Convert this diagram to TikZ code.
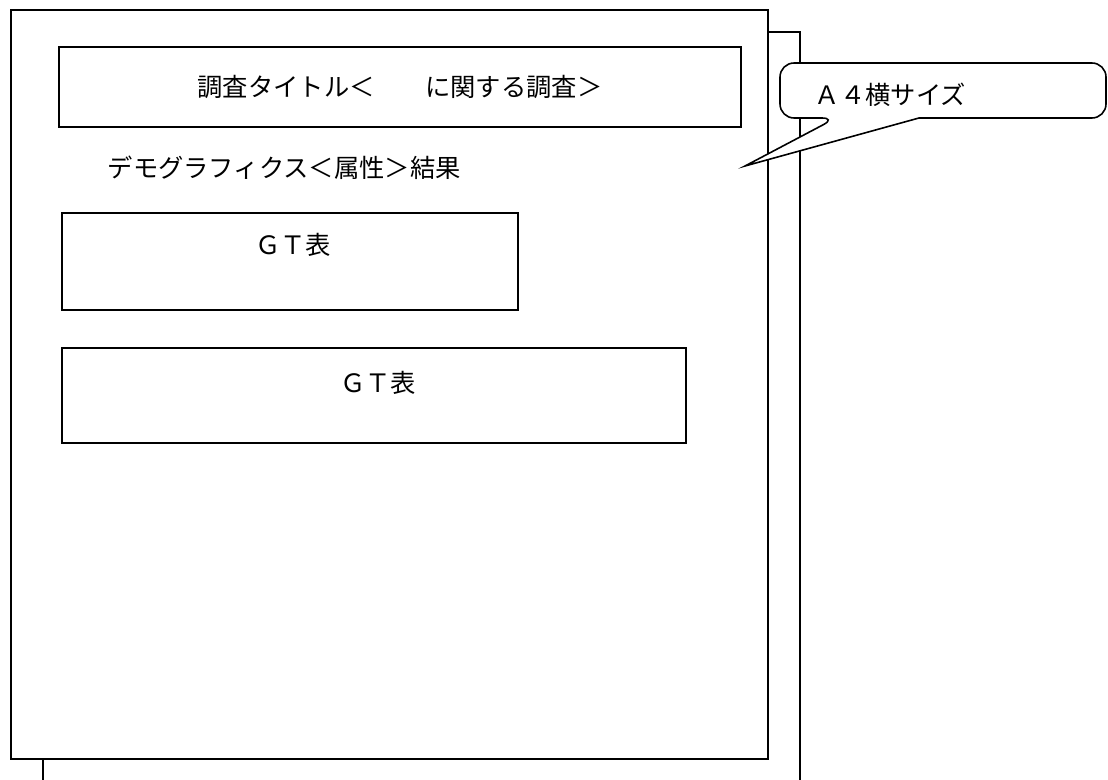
\documentclass[tikz,border=0pt]{standalone}
\usepackage{fontspec}
\setmainfont{Noto Sans CJK JP}
\usepackage{tikz}

\begin{document}
\begin{tikzpicture}[x=0.02cm, y=-0.02cm, line width=0.9pt,
    box/.style={shape=rectangle, draw=black, fill=white, inner sep=0pt},
    lbl/.style={inner sep=0pt, font=\fontsize{14.4pt}{16pt}\selectfont}]
    \useasboundingbox (0,0) rectangle (1108,780);

    % sheet behind
    \draw (43,780) -- (43,759);
    \draw (768,32) -- (800,32) -- (800,780);
    \node[box, minimum width=15.14cm, minimum height=14.98cm] (page) at (389.5,384.5) {};

    \node[box, minimum width=13.64cm, minimum height=1.6cm, lbl] (title) at (400,87) {調査タイトル＜　　に関する調査＞};
    \node[lbl, anchor=west] (demo) at (107,168) {デモグラフィクス＜属性＞結果};

    \node[box, minimum width=9.12cm, minimum height=1.94cm] (gt1) at (290,261.5) {};
    \node[lbl] (gt1text) at (293,245) {ＧＴ表};
    \node[box, minimum width=12.48cm, minimum height=1.9cm] (gt2) at (374,395.5) {};
    \node[lbl] (gt2text) at (378,383) {ＧＴ表};

    % callout
    \coordinate (tip) at (745,166);
    \draw[fill=white] (836,118) -- (tip) -- (919,118) [rounded corners=8pt] -- (1106,118) -- (1106,63) -- (780,63) -- (780,118) -- cycle;
    \node[lbl, anchor=west] (size) at (814,95) {Ａ４横サイズ};
\end{tikzpicture}
\end{document}
